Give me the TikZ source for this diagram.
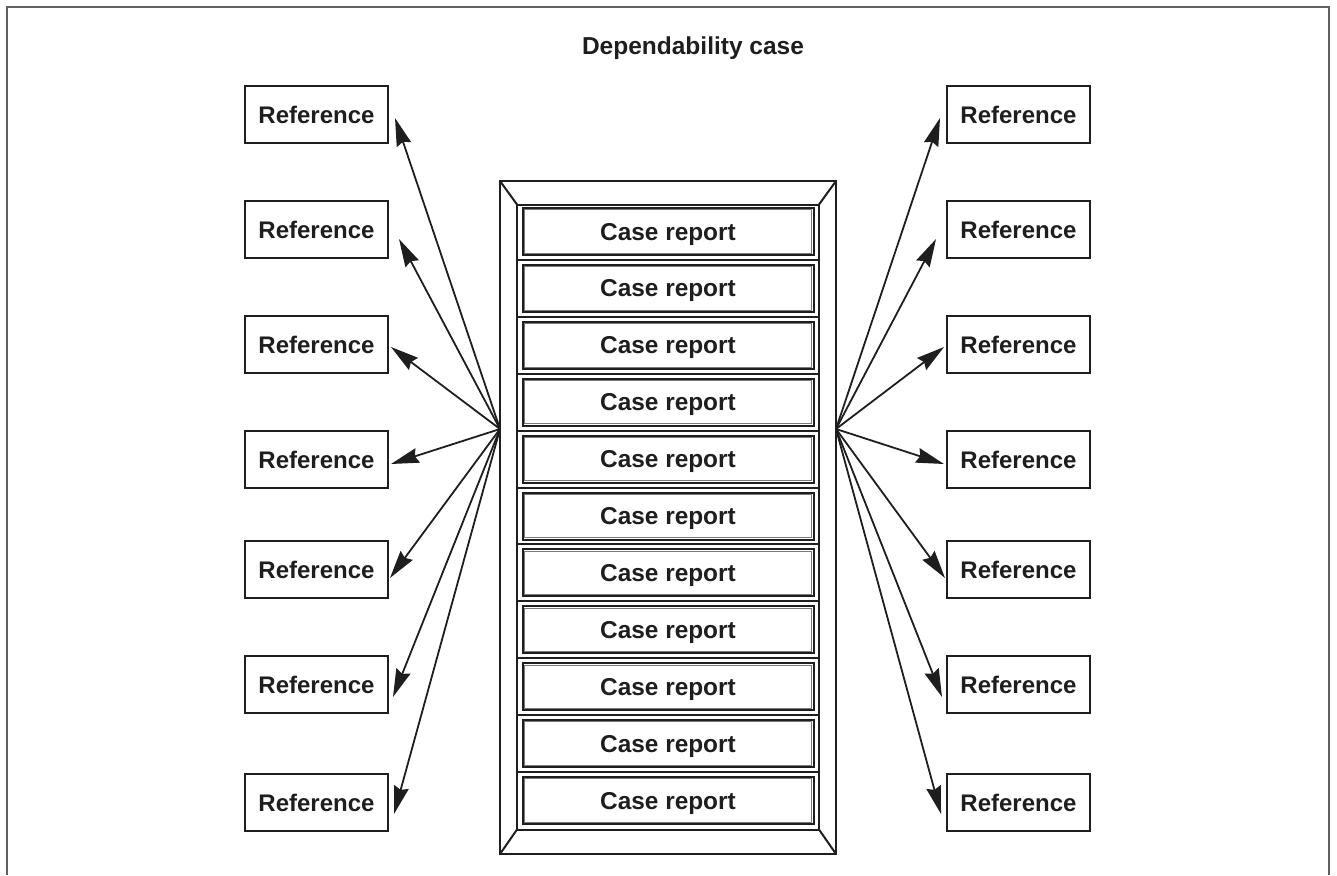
\documentclass[tikz,border=0pt]{standalone}
\usepackage{fontspec}
\setmainfont{Liberation Sans}
\usetikzlibrary{arrows.meta,calc}
\definecolor{ink}{HTML}{1E1E1E}
\definecolor{framegray}{HTML}{606060}
\definecolor{innergray}{HTML}{7A7A7A}
\begin{document}
\begin{tikzpicture}[x=1pt,y=-1pt,
  refbox/.style={draw=ink,line width=2pt,minimum width=143pt,minimum height=57pt,
    inner sep=0pt,text depth=0pt,font=\fontsize{24}{28}\selectfont\bfseries,text=ink},
  casebox/.style={draw=ink,line width=2pt,minimum width=291pt,minimum height=47pt,
    inner sep=0pt,text depth=0pt,font=\fontsize{24.4}{28}\selectfont\bfseries,text=ink},
  link/.style={draw=ink,line width=1.8pt,-{Stealth[length=28pt,width=15pt,inset=3pt]}},
  edge/.style={draw=ink,line width=2pt}]
\useasboundingbox (0,0) rectangle (1337,875);
% page frame
\draw[framegray,line width=2.2pt] (7,875) -- (7,7) -- (1329,7) -- (1329,875);
% title
\node[font=\fontsize{24.5}{29}\selectfont\bfseries,text=ink] (title) at (693,48) {Dependability case};
% container with bevelled frame
\coordinate (oNW) at (500,181); \coordinate (oSE) at (836,854);
\coordinate (iNW) at (517,204.5); \coordinate (iSE) at (819,829.5);
\draw[edge] (oNW) rectangle (oSE);
\draw[edge] (iNW) rectangle (iSE);
\draw[edge] (oNW) -- (iNW);
\draw[edge] (oSE) -- (iSE);
\draw[edge] (oNW |- oSE) -- (iNW |- iSE);
\draw[edge] (oSE |- oNW) -- (iSE |- iNW);
% stacked case reports
\foreach \k in {0,...,10} {
  \pgfmathsetmacro{\cy}{231.5+56.9*\k}
  \node[casebox] (c\k) at (668,\cy) {Case report};
  \draw[innergray,line width=1pt] ([shift={(2.8,2.8)}]c\k.north west) rectangle ([shift={(-2.8,-2.8)}]c\k.south east);
}
\foreach \k in {0,...,9} {
  \pgfmathsetmacro{\sy}{231.5+56.9*\k+28.45}
  \draw[edge] (517,\sy) -- (819,\sy);
}
% reference boxes
\foreach \i/\y in {1/114.5,2/229.5,3/344.5,4/459.5,5/569.5,6/684.5,7/802.5} {
  \node[refbox] (l\i) at (316.5,\y) {Reference};
  \node[refbox] (r\i) at (1018.5,\y) {Reference};
}
% hubs
\coordinate (hubL) at (500,429);
\coordinate (hubR) at (836,429);
% links
\foreach \i/\dx/\dy in {1/6/3.5,2/10/9.5,3/2/2.5,4/2/4.5,5/1/8.5,6/4/12.5,7/5/11.5} {
  \draw[link] (hubL) -- ($(l\i.east)+(\dx,\dy)$);
  \draw[link] (hubR) -- ($(r\i.west)+(-\dx,\dy)$);
}
\end{tikzpicture}
\end{document}
